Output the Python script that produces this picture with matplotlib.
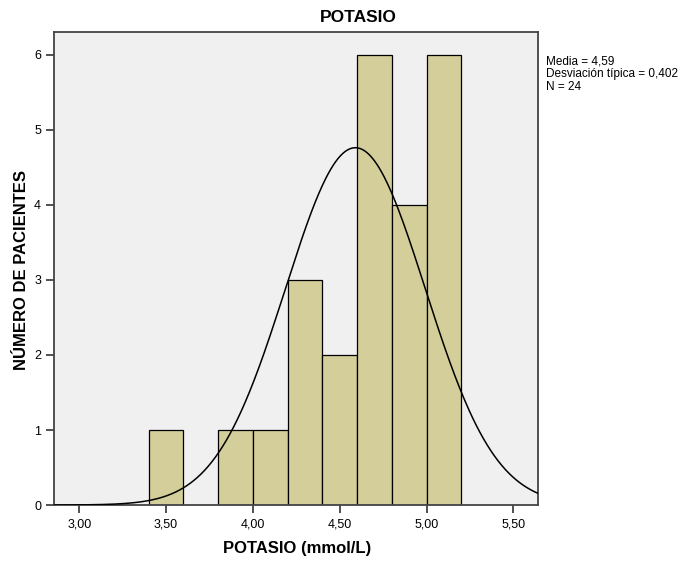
import numpy as np
import matplotlib
matplotlib.use("Agg")
import matplotlib.pyplot as plt
from matplotlib.ticker import FuncFormatter

plt.rcParams['font.family'] = ['Liberation Sans', 'DejaVu Sans']

# Data
bin_edges = [3.4, 3.6, 3.8, 4.0, 4.2, 4.4, 4.6, 4.8, 5.0, 5.2]
counts = [1, 0, 1, 1, 3, 2, 6, 4, 6]
mean = 4.59
sd = 0.402
n = 24
x_ticks = [3.0, 3.5, 4.0, 4.5, 5.0, 5.5]
y_ticks = [0, 1, 2, 3, 4, 5, 6]

fig = plt.figure(figsize=(6.88, 5.63), dpi=100)
ax = fig.add_axes([0.0789, 0.103, 0.7031, 0.8407])
ax.set_facecolor('#F0F0F0')

lefts = bin_edges[:-1]
widths = np.diff(bin_edges)
for l, w, c in zip(lefts, widths, counts):
    if c > 0:
        ax.bar(l, c, width=w, align='edge', color='#D3CE9A', edgecolor='black', linewidth=0.9, zorder=2)

bw = bin_edges[1] - bin_edges[0]
xs = np.linspace(2.856, 5.642, 400)
ys = n * bw / (sd * np.sqrt(2 * np.pi)) * np.exp(-0.5 * ((xs - mean) / sd) ** 2)
ax.plot(xs, ys, color='black', linewidth=1.1, zorder=3)

ax.set_xlim(2.856, 5.642)
ax.set_ylim(0, 6.31)
ax.set_xticks(x_ticks)
ax.set_yticks(y_ticks)
ax.xaxis.set_major_formatter(FuncFormatter(lambda v, p: f"{v:.2f}".replace('.', ',')))
ax.tick_params(direction='out', length=6, width=1.2, labelsize=9, color='#333333')
for s in ax.spines.values():
    s.set_color('#444444')
    s.set_linewidth(1.3)

fig.text(297/688, 1 - 549/563, 'POTASIO (mmol/L)', ha='center', va='center', fontsize=12, fontweight='bold')
fig.text(22/688, 1 - 270/563, 'NÚMERO DE PACIENTES', ha='center', va='center', rotation=90,
         fontsize=12, fontweight='bold')
fig.text(358/688, 1 - 17/563, 'POTASIO', ha='center', va='center', fontsize=12.5, fontweight='bold')

fig.text(546/688, 1 - 56/563, 'Media = 4,59\nDesviación típica = 0,402\nN = 24',
         ha='left', va='top', fontsize=8.5, linespacing=1.05)

fig.savefig('out.png', dpi=100)
